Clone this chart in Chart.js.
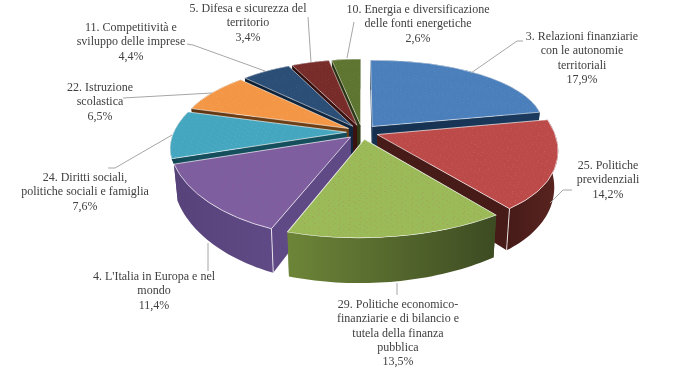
<!DOCTYPE html>
<html>
<head>
<meta charset="utf-8">
<style>
html, body { margin: 0; padding: 0; background: #fff; }
canvas { display: block; }
</style>
<script src="https://cdn.jsdelivr.net/npm/chart.js@4"></script>
</head>
<body>
<canvas id="myChart" width="678" height="369"></canvas>
<script>
const categories = [
	["3. Relazioni finanziarie", "con le autonomie", "territoriali"],
	["25. Politiche", "previdenziali"],
	["29. Politiche economico-", "finanziarie e di bilancio e", "tutela della finanza", "pubblica"],
	["4. L'Italia in Europa e nel", "mondo"],
	["24. Diritti sociali,", "politiche sociali e famiglia"],
	["22. Istruzione", "scolastica"],
	["11. Competitività e", "sviluppo delle imprese"],
	["5. Difesa e sicurezza del", "territorio"],
	["10. Energia e diversificazione", "delle fonti energetiche"]
];
const values = [17.9, 14.2, 13.5, 11.4, 7.6, 6.5, 4.4, 3.4, 2.6];

// colours of each slice: top, speckle, wall light, wall dark
const topColors = ["#4a7fbb", "#bb4a49", "#9bbb59", "#7d5f9f", "#45a6bf", "#f39645", "#2b4e76", "#772c2a", "#5d7530"];
const dotColors = ["#5b8bc3", "#c65f5c", "#a89a58", "#99569e", "#58b3ca", "#f5a35c", "#3a5c83", "#843c39", "#6c823c"];
const wallLight = ["#1b3a5e", "#5a2420", "#6d8538", "#5f4a85", "#154f5e", "#6d3f16", "#10263f", "#3c1211", "#2f3c15"];
const wallDark = ["#15304f", "#471b18", "#3d4b22", "#57427a", "#10414e", "#5c3412", "#0c1d31", "#2e0e0d", "#252f10"];
const drawOrder = [8, 7, 6, 5, 4, 0, 3, 1, 2];

// label layout: centre x and y of the first line
const labelPos = [[582, 37], [608, 166], [398, 305], [154, 277], [85, 178], [100, 88], [131, 28], [248, 9], [418, 10]];
const lineHeight = 14.3;
const leaders = [
	[[523, 41], [517, 41], [471, 73]],
	[[572, 190], [563, 190], [550, 203]],
	[[397, 295], [397, 283]],
	[[208, 271], [208, 243]],
	[[108, 168], [115, 168], [172, 135]],
	[[123, 98], [212, 93]],
	[[187, 44], [193, 45], [265, 71]],
	[[308, 17], [311, 62]],
	[[354, 22], [347, 58]]
];

// perspective of the pie plane
const cx = 362, cy = 132, Rx = 179, Ry = 80, persp = 0.18, explode = 0.09, depth = 34.5, leftSquash = 0.965;

function project(u, v) {
	const s = 1 / (1 - persp * v);
	return [cx + Rx * u * s * (u < 0 ? leftSquash : 1), cy + Ry * v * s, s];
}

function speckle(base, dot) {
	const tile = document.createElement("canvas");
	tile.width = 9;
	tile.height = 9;
	const c = tile.getContext("2d");
	c.fillStyle = base;
	c.fillRect(0, 0, 9, 9);
	c.fillStyle = dot;
	[[1, 1], [5, 3], [2, 6], [7, 7]].forEach(p => c.fillRect(p[0], p[1], 1, 1));
	return c.createPattern(tile, "repeat");
}

const pie3d = {
	id: "pie3d",
	beforeDatasetsDraw(chart) {
		const ctx = chart.ctx;
		const arcs = chart.getDatasetMeta(0).data;
		drawOrder.forEach(i => drawSlice(ctx, arcs[i], i));
		return false;
	},
	afterDraw(chart) {
		const ctx = chart.ctx;
		ctx.save();
		ctx.strokeStyle = "#a6a6a6";
		ctx.lineWidth = 1;
		leaders.forEach(pts => {
			ctx.beginPath();
			pts.forEach((p, j) => j ? ctx.lineTo(p[0], p[1]) : ctx.moveTo(p[0], p[1]));
			ctx.stroke();
		});
		ctx.fillStyle = "#404040";
		ctx.font = '12px "Liberation Serif"';
		ctx.textAlign = "center";
		ctx.textBaseline = "middle";
		categories.forEach((lines, i) => {
			const all = lines.concat(values[i].toFixed(1).replace(".", ",") + "%");
			all.forEach((t, j) => ctx.fillText(t, labelPos[i][0], labelPos[i][1] + j * lineHeight));
		});
		ctx.restore();
	}
};

function drawSlice(ctx, arc, i) {
	const a1 = arc.startAngle, a2 = arc.endAngle, mid = (a1 + a2) / 2;
	const ox = explode * Math.cos(mid), oy = explode * Math.sin(mid);
	const d0 = project(ox, oy);
	const d1 = project(ox + Math.cos(a1), oy + Math.sin(a1));
	const d2 = project(ox + Math.cos(a2), oy + Math.sin(a2));

	// affine map taking this arc element on to the projected plane
	const R = arc.outerRadius;
	const ax = R * Math.cos(a1), ay = R * Math.sin(a1), bx = R * Math.cos(a2), by = R * Math.sin(a2);
	const det = ax * by - bx * ay;
	const px = d1[0] - d0[0], py = d1[1] - d0[1], qx = d2[0] - d0[0], qy = d2[1] - d0[1];
	const m11 = (px * by - qx * ay) / det, m12 = (qx * ax - px * bx) / det;
	const m21 = (py * by - qy * ay) / det, m22 = (qy * ax - py * bx) / det;
	const rim = a => {
		const x = R * Math.cos(a), y = R * Math.sin(a);
		return [d0[0] + m11 * x + m12 * y, d0[1] + m21 * x + m22 * y];
	};
	// teal's outer wall is hidden behind purple in the original, keep it short
	const wallDepth = i === 4 ? 8 : depth;
	const drop = p => {
		const s = 1 / (1 - persp * (p[1] - cy) / Ry);
		return [cx + (p[0] - cx) * 0.98, p[1] + wallDepth * s];
	};

	const rimPts = [];
	const steps = 40;
	for (let k = 0; k <= steps; k++) rimPts.push(rim(a1 + (a2 - a1) * k / steps));
	const first = rimPts[0], last = rimPts[steps], apex = [d0[0], d0[1]];

	const xs = rimPts.map(p => p[0]);
	const grad = ctx.createLinearGradient(Math.min.apply(null, xs), 0, Math.max.apply(null, xs), 0);
	if (i === 2) {
		// the green wall runs light to dark from its left end, which is its last rim point
		grad.addColorStop(0, wallLight[i]);
		grad.addColorStop(1, wallDark[i]);
	} else {
		grad.addColorStop(0, wallDark[i]);
		grad.addColorStop(1, wallLight[i]);
	}

	ctx.save();
	ctx.fillStyle = grad;
	// inner walls
	[first, last].forEach(p => {
		fillPoly(ctx, [apex, p, drop(p), drop(apex)]);
	});
	// outer wall
	const strip = rimPts.concat(rimPts.slice().reverse().map(drop));
	fillPoly(ctx, strip);
	// pale corner lines
	ctx.strokeStyle = "rgba(255,255,255,0.8)";
	ctx.lineWidth = 1;
	[first, last].forEach(p => {
		if (i === 1 && p === last || i === 3 && p === first) {
			const b = drop(p);
			ctx.beginPath();
			ctx.moveTo(p[0], p[1]);
			ctx.lineTo(b[0], b[1]);
			ctx.stroke();
		}
	});
	// the library's arc on top
	ctx.transform(m11, m21, m12, m22, d0[0] - m11 * arc.x - m12 * arc.y, d0[1] - m21 * arc.x - m22 * arc.y);
	arc.draw(ctx);
	ctx.restore();
}

function fillPoly(ctx, pts) {
	ctx.beginPath();
	pts.forEach((p, j) => j ? ctx.lineTo(p[0], p[1]) : ctx.moveTo(p[0], p[1]));
	ctx.closePath();
	ctx.fill();
}

const ctx = document.getElementById("myChart");
const myChart = new Chart(ctx, {
	type: "pie",
	data: {
		labels: categories,
		datasets: [{
			data: values,
			backgroundColor: topColors.map((c, i) => speckle(c, dotColors[i])),
			borderColor: "rgba(255,255,255,0.85)",
			borderWidth: 1
		}]
	},
	options: {
		responsive: false,
		animation: false,
		plugins: {
			legend: { display: false },
			tooltip: { enabled: false }
		}
	},
	plugins: [pie3d]
});
</script>
</body>
</html>
